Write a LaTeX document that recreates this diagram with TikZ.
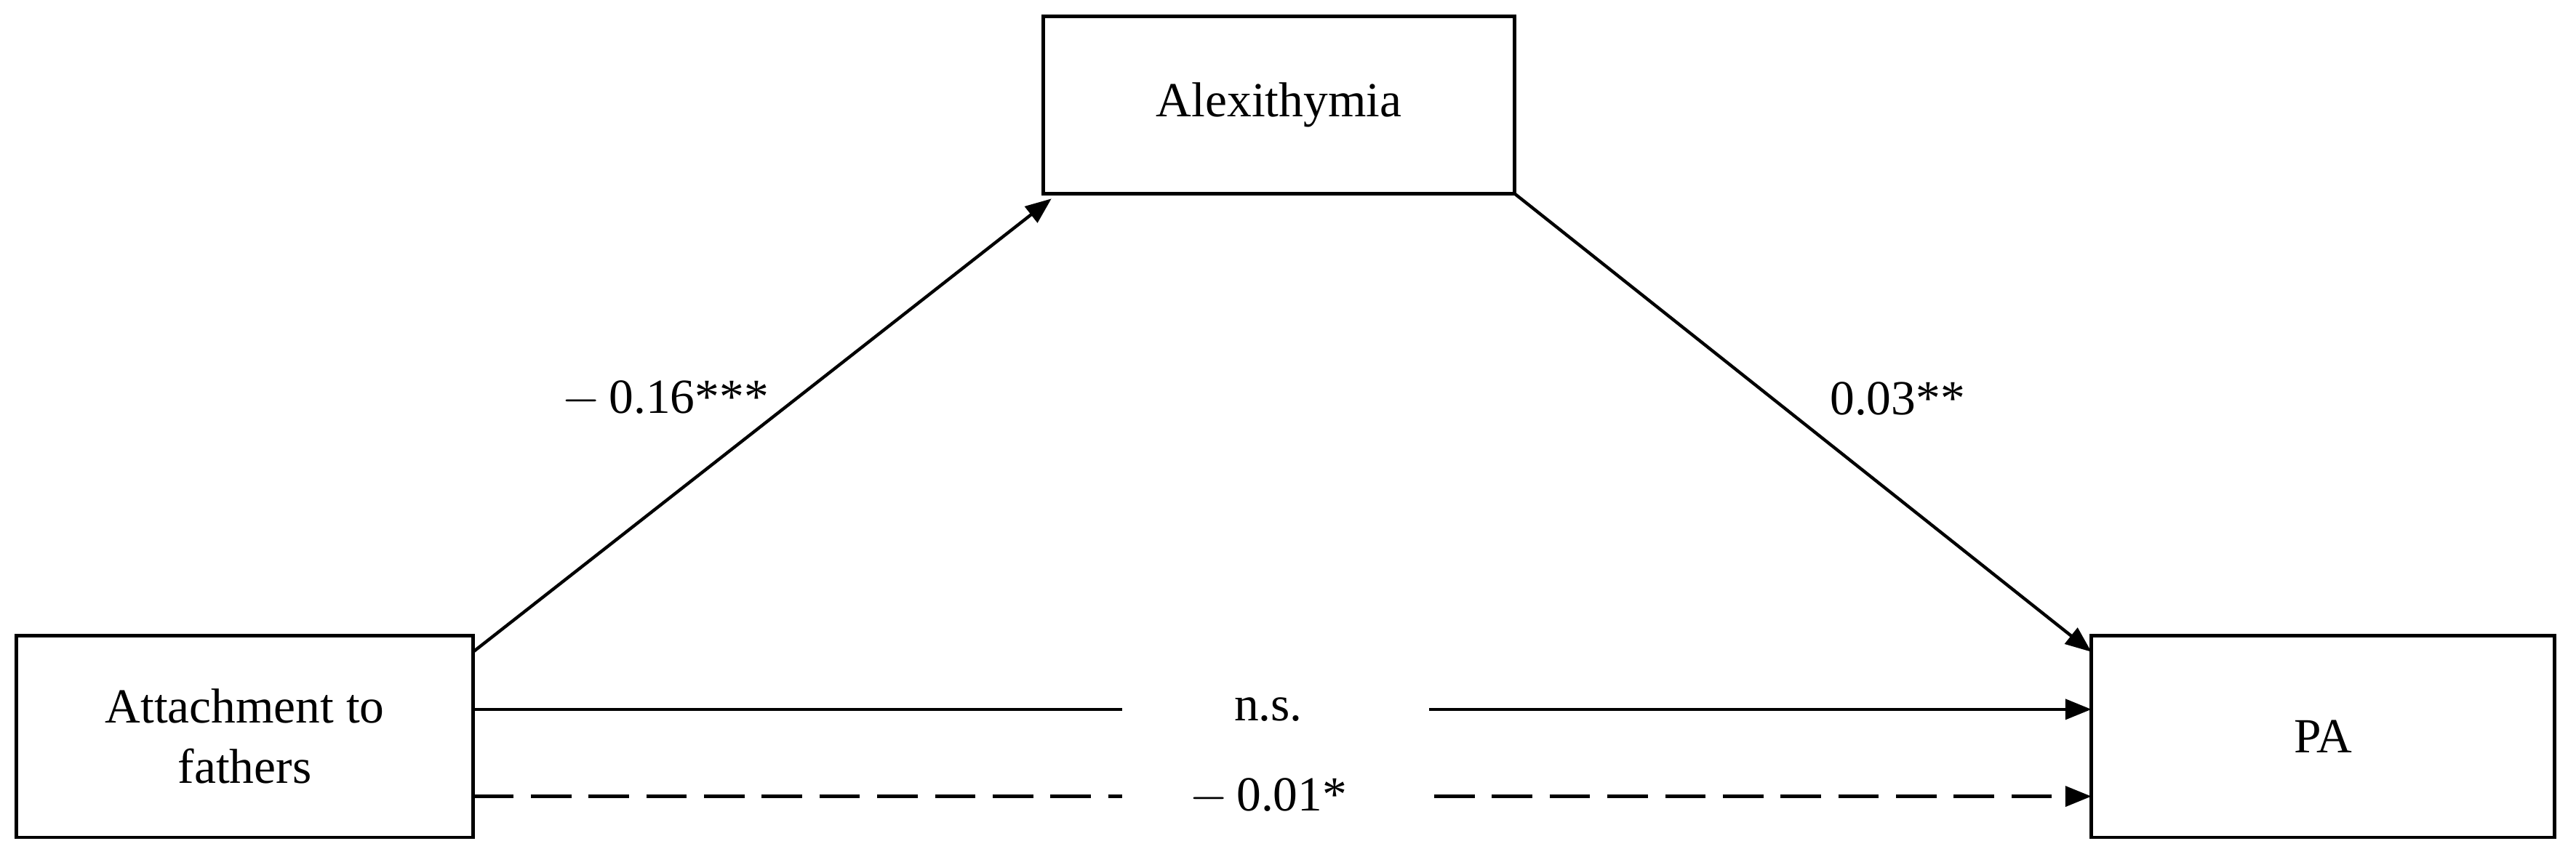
\documentclass[tikz,border=0pt]{standalone}
\usepackage{fontspec}
\setmainfont{Liberation Serif}
\usetikzlibrary{arrows.meta}
\begin{document}
\begin{tikzpicture}[x=0.02cm,y=-0.02cm,
  box/.style={draw,line width=1.2pt,inner sep=0pt,align=center},
  lbl/.style={font=\fontsize{17}{21}\selectfont},
  arr/.style={line width=1.1pt,-{Triangle[length=9pt,width=7pt]}}]
\useasboundingbox (0,0) rectangle (1568,517);
\node[box,minimum width=287*0.02cm,minimum height=108*0.02cm,lbl] (alex) at (778.5,64) {Alexithymia};
\node[box,minimum width=278*0.02cm,minimum height=123*0.02cm,lbl] (att) at (149,448.5) {Attachment to\\fathers};
\node[box,minimum width=282*0.02cm,minimum height=123*0.02cm,lbl] (pa) at (1414,448.5) {PA};
\coordinate (a1) at (288,397);
\coordinate (a2) at (288,432);
\coordinate (a3) at (288,485);
\coordinate (p1) at (1273,397);
\coordinate (p2) at (1273,432);
\coordinate (p3) at (1273,485);
\coordinate (x1) at (640,121);
\coordinate (x2) at (922,118);
\node[lbl] (ns) at (772,432) {n.s.};
\node[lbl] (nd) at (772,485) {$-$\,0.01*};
\node[lbl] (l1) at (405,243) {$-$\,0.16***};
\node[lbl] (l2) at (1155,243) {0.03**};
\draw[arr] (a1) -- (x1);
\draw[arr] (x2) -- (p1);
\draw[line width=1.1pt] (a2) -- (683,432);
\draw[arr] (870,432) -- (p2);
\draw[line width=1.1pt,dash pattern=on 14pt off 6pt] (a3) -- (683,485);
\draw[arr,dash pattern=on 14pt off 6pt] (873,485) -- (p3);
\end{tikzpicture}
\end{document}
